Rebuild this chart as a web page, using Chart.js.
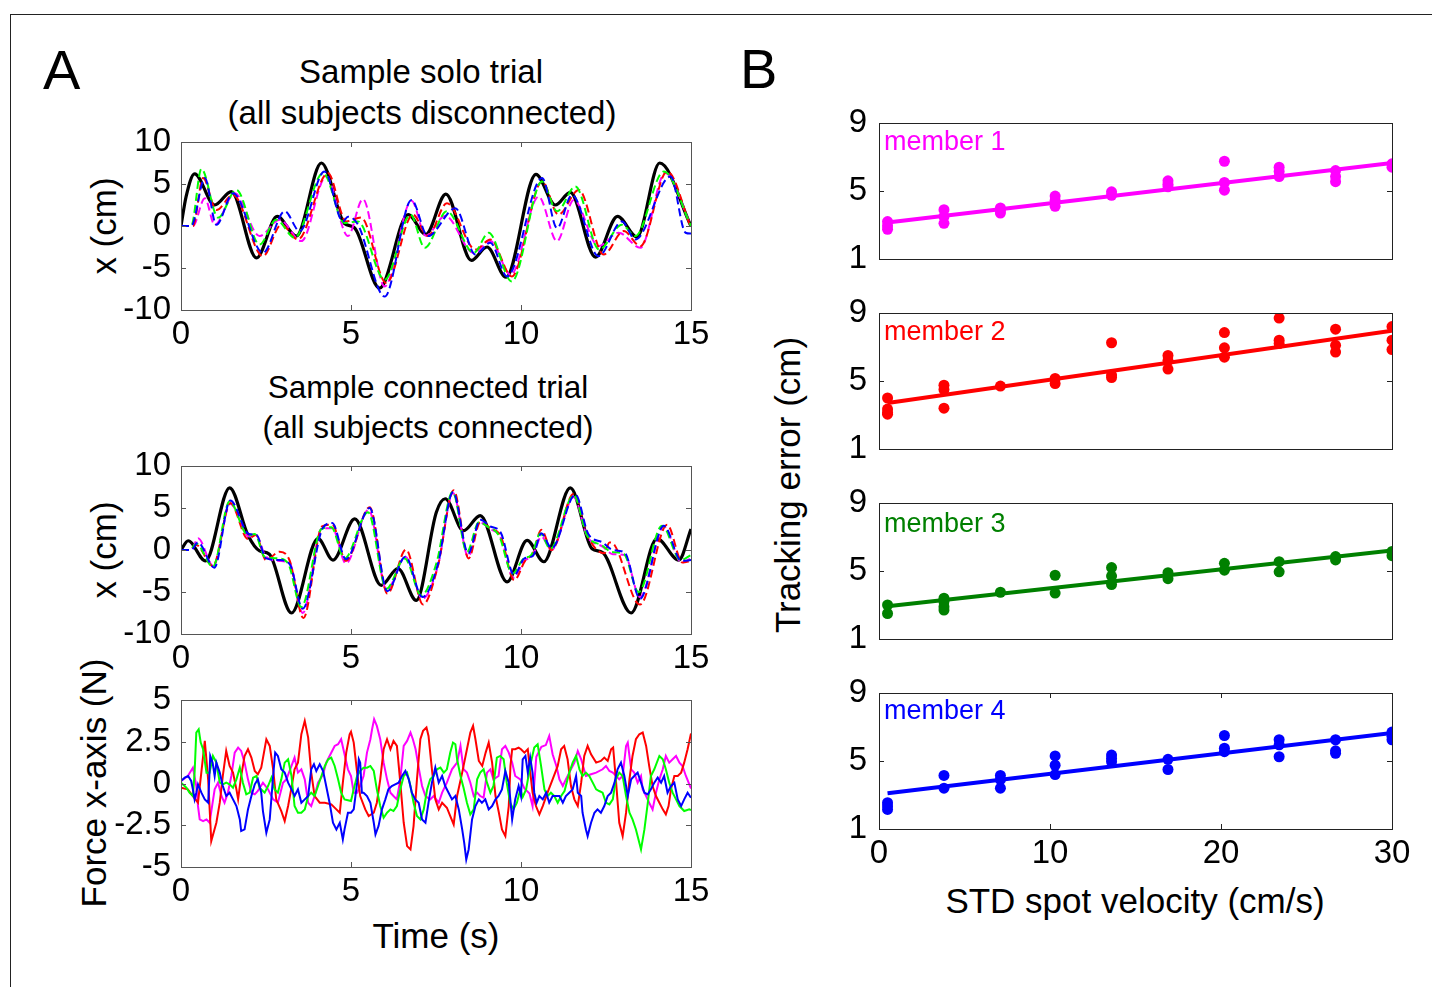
<!DOCTYPE html>
<html lang="en">
<head>
<meta charset="UTF-8">
<title>Group tracking: sample trials and tracking error</title>
<script src="https://cdn.jsdelivr.net/npm/chart.js"></script>
<style>
  body { margin: 0; background: #fff; font-family: 'Liberation Sans', Arial, sans-serif; color: #000; }
  #fig { position: relative; width: 1432px; height: 987px; overflow: hidden; background: #fff; }
  .frame { position: absolute; left: 10px; top: 14px; width: 1440px; height: 1000px;
           border-left: 1px solid #222; border-top: 1px solid #222; }
  .panel { position: absolute; }
  .txt { position: absolute; white-space: nowrap; line-height: 1; }
  .ctr { transform: translateX(-50%); }
  .vlab { position: absolute; white-space: nowrap; line-height: 1; font-size: 35px;
          transform: translate(-50%, -50%) rotate(-90deg); }
  .letter { font-size: 56px; }
  .title { font-size: 33px; }
  .title2 { font-size: 31.5px; }
  .axis { font-size: 35px; }
  .member { font-size: 27px; }
</style>
</head>
<body>
<div id="fig">
  <div class="frame"></div>

  <div class="txt letter" style="left:43px; top:42px;">A</div>
  <div class="txt letter" style="left:740px; top:41px;">B</div>

  <div class="txt title ctr" style="left:421px; top:55px;">Sample solo trial</div>
  <div class="txt title ctr" style="left:422px; top:96px;">(all subjects disconnected)</div>
  <div class="txt title2 ctr" style="left:428px; top:372px;">Sample connected trial</div>
  <div class="txt title2 ctr" style="left:428px; top:412px;">(all subjects connected)</div>
  <div class="txt axis ctr" style="left:436px; top:918px;">Time (s)</div>
  <div class="txt axis ctr" style="left:1135px; top:883px;">STD spot velocity (cm/s)</div>

  <div class="vlab" style="left:103px; top:226px;">x (cm)</div>
  <div class="vlab" style="left:103px; top:550px;">x (cm)</div>
  <div class="vlab" style="left:93px; top:783px;">Force x-axis (N)</div>
  <div class="vlab" style="left:787px; top:485px;">Tracking error (cm)</div>

  <div class="panel" id="pSolo"><canvas id="cSolo"></canvas></div>
  <div class="panel" id="pConn"><canvas id="cConn"></canvas></div>
  <div class="panel" id="pForce"><canvas id="cForce"></canvas></div>
  <div class="panel" id="pM1"><canvas id="cM1"></canvas></div>
  <div class="panel" id="pM2"><canvas id="cM2"></canvas></div>
  <div class="panel" id="pM3"><canvas id="cM3"></canvas></div>
  <div class="panel" id="pM4"><canvas id="cM4"></canvas></div>

  <div class="txt member" style="left:884px; top:128px; color:#ff00ff;">member 1</div>
  <div class="txt member" style="left:884px; top:318px; color:#ff0000;">member 2</div>
  <div class="txt member" style="left:884px; top:510px; color:#008000;">member 3</div>
  <div class="txt member" style="left:884px; top:697px; color:#0000ff;">member 4</div>
</div>

<script>
// ---- panel A, solo trial: [time s, x cm]
const soloTarget = [[0,0],[0.15,3.5],[0.4,6.2],[0.99,2.5],[1.48,4.1],[2.22,-3.8],[2.83,1.15],[3.39,-1.2],[4.13,7.5],[4.81,0.3],[5.1,-0.2],[5.84,-7.4],[6.68,1.35],[7.2,-1.0],[7.79,3.8],[8.54,-4.1],[9.0,-2.5],[9.56,-6.1],[10.44,6.15],[11.01,2.5],[11.45,4.0],[12.19,-3.7],[12.84,1.15],[13.41,-1.3],[14.08,7.5],[15,0]];
const soloM1 = [[0,0],[0.35,0],[0.7,3.3],[0.99,0.15],[1.58,3.9],[2.31,-1.2],[2.9,0.75],[3.54,-1.8],[4.27,5.9],[4.91,-1.2],[5.35,3.2],[5.99,-7.2],[6.78,3.0],[7.2,-1.15],[7.77,1.2],[8.61,-3.2],[9.1,-1.8],[9.7,-5.8],[10.52,3.5],[11.06,-1.8],[11.55,3.1],[12.28,-2.4],[12.87,-0.8],[13.51,-2.6],[14.24,6.3],[15,0]];
const soloM2 = [[0,0],[0.35,0],[0.65,5.7],[1.04,1.9],[1.53,3.7],[2.41,-3.6],[2.95,0.15],[3.44,-1.6],[4.32,6.3],[4.86,0.55],[5.3,1.0],[6.04,-6.8],[6.82,1.35],[7.26,-1.2],[7.82,2.7],[8.66,-2.8],[9.1,-1.6],[9.73,-6.0],[10.62,5.3],[11.1,1.35],[11.7,4.3],[12.43,-3.4],[13.02,-0.6],[13.51,-2.4],[14.3,6.5],[15,-0.2]];
const soloM3 = [[0,0],[0.3,0],[0.6,6.8],[1.09,1.0],[1.63,4.3],[2.31,-2.2],[2.8,0.75],[3.34,-1.4],[4.18,6.3],[4.81,0.35],[5.2,0.55],[5.99,-6.4],[6.75,1.35],[7.17,-2.6],[7.82,1.75],[8.61,-3.2],[9.05,-0.8],[9.73,-6.6],[10.62,5.3],[11.06,1.75],[11.6,4.7],[12.3,-2.8],[12.97,0.15],[13.36,-1.2],[14.2,6.5],[15,0]];
const soloM4 = [[0,0],[0.3,0],[0.7,5.7],[1.04,0.15],[1.53,3.9],[2.41,-3.2],[3.05,1.75],[3.49,-0.6],[4.22,6.5],[4.76,0.55],[4.91,1.1],[5.2,0.2],[5.99,-8.4],[6.78,3.1],[7.26,-1.2],[8.07,2.1],[8.66,-3.4],[9.1,-2.0],[9.59,-6.0],[10.62,5.7],[11.06,-0.25],[11.5,3.7],[12.28,-3.6],[12.97,0.55],[13.36,-1.6],[14.4,5.9],[14.84,-0.8],[15,-0.9]];

// ---- panel A, connected trial: [time s, x cm]
const connTarget = [[0,0],[0.21,1.1],[0.72,-1.3],[1.43,7.4],[1.97,1.75],[2.31,-0.1],[2.6,-0.5],[3.25,-7.5],[4.03,1.35],[4.47,-1.2],[5.11,3.7],[5.89,-4.2],[6.38,-2.2],[6.92,-6.0],[7.51,4.5],[7.77,6.1],[8.31,2.3],[8.8,4.1],[9.59,-3.8],[10.18,1.15],[10.67,-1.4],[11.45,7.4],[12.09,0.15],[12.4,-0.3],[13.24,-7.5],[14.0,1.35],[14.64,-1.2],[15,2.5]];
const connM1 = [[0,0],[0.3,0],[0.5,1.4],[0.95,-1.9],[1.45,5.5],[2.0,1.6],[2.2,1.8],[2.5,-0.8],[2.9,-1.3],[3.2,-1.6],[3.58,-7.5],[4.15,2.6],[4.45,2.6],[4.85,-1.6],[5.52,4.8],[6.05,-4.8],[6.6,-0.8],[7.1,-5.8],[7.55,-2.0],[8.0,6.8],[8.45,-0.8],[8.78,3.3],[9.1,2.5],[9.4,1.5],[9.78,-3.3],[10.1,-1.3],[10.35,-0.6],[10.6,1.6],[10.9,0.0],[11.55,6.3],[11.95,1.6],[12.4,0.4],[12.7,-0.5],[13.05,-0.6],[13.5,-5.6],[14.2,2.8],[14.72,-1.5],[15,-1.0]];
const connM2 = [[0,0],[0.25,0],[0.45,0.6],[0.94,-1.9],[1.45,5.6],[1.97,1.3],[2.2,1.8],[2.5,-1.2],[2.9,-0.2],[3.2,-1.3],[3.6,-8.1],[4.15,2.8],[4.45,3.0],[4.85,-1.3],[5.55,5.1],[6.07,-5.2],[6.62,0.05],[7.12,-6.5],[7.55,-2.0],[8.02,7.1],[8.46,-1.0],[8.8,3.3],[9.1,2.6],[9.4,1.7],[9.8,-3.6],[10.12,-1.3],[10.35,-0.4],[10.6,2.4],[10.9,0.0],[11.55,6.7],[11.98,1.5],[12.45,-0.4],[12.6,0.9],[12.75,0.6],[13.5,-6.5],[14.3,3.0],[14.75,-1.5],[15,-1.3]];
const connM3 = [[0,0],[0.25,0],[0.45,0.75],[0.94,-2.0],[1.43,5.8],[1.97,1.75],[2.17,1.9],[2.46,-0.8],[2.85,-1.0],[3.15,-1.6],[3.54,-6.8],[4.13,2.5],[4.42,2.7],[4.81,-1.0],[5.5,4.5],[6.04,-4.6],[6.58,-1.0],[7.07,-5.4],[7.51,-1.6],[7.99,6.9],[8.41,-0.25],[8.76,3.3],[9.05,2.7],[9.35,1.75],[9.75,-2.8],[10.08,-1.0],[10.3,-0.6],[10.57,1.95],[10.86,0.15],[11.55,6.5],[11.94,1.75],[12.38,0.55],[12.68,-0.25],[13.02,-0.45],[13.46,-5.0],[14.15,2.9],[14.69,-1.2],[15,-0.6]];
const connM4 = [[0,0],[0.3,0],[0.5,0.9],[0.98,-2.1],[1.45,5.9],[2.0,1.9],[2.22,1.8],[2.5,-1.0],[2.9,-1.2],[3.2,-1.7],[3.58,-7.0],[4.18,2.7],[4.45,3.2],[4.85,-1.1],[5.55,5.0],[6.07,-4.9],[6.6,-0.8],[7.1,-5.6],[7.55,-1.8],[8.0,6.9],[8.45,-0.4],[8.8,3.6],[9.1,2.8],[9.4,2.1],[9.8,-3.0],[10.1,-1.0],[10.35,-0.7],[10.6,2.0],[10.9,0.2],[11.6,6.6],[11.98,1.9],[12.4,0.9],[12.7,0.0],[13.05,-0.3],[13.5,-5.8],[14.2,2.9],[14.72,-1.3],[15,-1.2]];

// ---- panel A, interaction forces: [time s, force N]
const forceM1 = [[0,0.15],[0.2,0.45],[0.35,0.95],[0.45,-0.15],[0.5,-1.35],[0.55,-2.15],[0.65,-2.25],[0.75,-2.15],[0.84,-2.35],[0.9,-1.55],[0.99,-0.35],[1.09,0.05],[1.19,-0.75],[1.28,-1.15],[1.38,-0.55],[1.48,0.45],[1.58,1.85],[1.68,2.15],[1.77,1.95],[1.87,1.25],[1.97,0.25],[2.07,-0.55],[2.17,-0.65],[2.26,-0.45],[2.41,0.05],[2.56,-0.35],[2.71,-0.95],[2.85,-1.15],[3.0,0.05],[3.1,0.25],[3.25,1.05],[3.34,1.55],[3.44,0.65],[3.54,0.85],[3.64,0.25],[3.74,-1.15],[3.83,-1.35],[3.93,-0.75],[4.03,0.05],[4.18,0.55],[4.27,1.25],[4.37,1.65],[4.52,2.25],[4.62,2.35],[4.71,2.65],[4.81,1.75],[4.91,0.85],[5.0,0.45],[5.08,-0.55],[5.18,-0.55],[5.27,-0.15],[5.37,0.45],[5.47,1.85],[5.57,2.65],[5.62,3.25],[5.68,3.85],[5.76,3.45],[5.86,2.65],[5.96,1.25],[6.06,0.25],[6.16,-0.55],[6.25,-0.75],[6.35,-0.95],[6.45,0.25],[6.55,2.25],[6.65,2.55],[6.75,3.05],[6.82,2.65],[6.9,2.05],[7.0,0.85],[7.09,-0.15],[7.19,-0.75],[7.33,-0.95],[7.43,-0.75],[7.58,-1.15],[7.68,-0.55],[7.82,0.05],[7.97,0.85],[8.12,1.25],[8.22,2.25],[8.31,0.85],[8.41,0.65],[8.51,0.05],[8.61,-0.75],[8.71,-0.55],[8.8,-0.75],[8.9,-0.85],[9.0,0.65],[9.1,0.85],[9.19,0.25],[9.34,0.45],[9.44,2.05],[9.54,2.25],[9.64,1.85],[9.74,1.25],[9.83,0.45],[9.98,0.25],[10.1,-0.3],[10.25,-0.6],[10.34,-1.35],[10.45,1.6],[10.6,2.2],[10.73,2.3],[10.83,2.85],[10.93,1.75],[11.04,1.05],[11.13,0.25],[11.23,-0.15],[11.32,0.25],[11.42,0.65],[11.57,1.25],[11.67,1.95],[11.77,1.45],[11.91,0.45],[12.06,0.55],[12.21,0.65],[12.4,0.85],[12.5,1.05],[12.6,0.75],[12.7,0.65],[12.89,0.25],[12.99,0.45],[13.09,2.25],[13.14,2.45],[13.24,0.85],[13.33,0.65],[13.43,0.05],[13.53,0.45],[13.58,-0.35],[13.68,-0.75],[13.77,-1.15],[13.87,-1.55],[13.97,-0.55],[14.07,0.25],[14.17,0.85],[14.26,1.65],[14.36,1.25],[14.46,1.45],[14.56,1.65],[14.66,1.25],[14.75,1.05],[14.85,0.45],[15,-0.3]];
const forceM2 = [[0,-0.25],[0.2,-0.35],[0.35,-0.75],[0.5,-1.15],[0.7,2.55],[0.8,0.2],[0.89,-3.45],[1.04,-2.35],[1.14,-1.15],[1.23,0.45],[1.33,1.95],[1.43,1.05],[1.53,0.65],[1.63,-0.35],[1.68,-0.95],[1.77,0.45],[1.87,1.65],[1.97,2.05],[2.07,1.55],[2.17,0.75],[2.26,0.55],[2.36,0.95],[2.51,2.65],[2.61,2.25],[2.71,0.85],[2.8,-0.95],[2.95,-1.65],[3.05,-2.25],[3.15,-1.35],[3.25,-0.25],[3.34,0.85],[3.44,1.25],[3.54,2.95],[3.64,3.75],[3.74,2.75],[3.83,0.65],[3.93,-0.75],[4.08,-1.15],[4.23,-1.15],[4.42,-1.25],[4.57,-1.55],[4.67,-1.75],[4.76,0.05],[4.86,1.85],[4.96,2.95],[5.0,3.1],[5.08,2.45],[5.18,0.65],[5.27,-0.75],[5.42,-1.55],[5.52,-1.95],[5.67,-1.75],[5.76,-1.15],[5.86,0.25],[5.96,2.05],[6.06,2.65],[6.16,2.05],[6.25,2.55],[6.35,2.25],[6.45,0.05],[6.55,-2.35],[6.65,-3.75],[6.75,-3.95],[6.84,-2.55],[6.94,0.25],[7.04,2.65],[7.12,3.15],[7.22,3.35],[7.28,2.85],[7.38,0.85],[7.48,-0.95],[7.58,-1.55],[7.68,-1.15],[7.82,-1.45],[7.92,-1.95],[8.02,-2.45],[8.12,-0.75],[8.27,0.65],[8.41,2.05],[8.51,3.05],[8.59,3.45],[8.66,2.65],[8.76,1.35],[8.86,1.05],[8.96,1.85],[9.05,2.45],[9.15,1.25],[9.25,-0.75],[9.35,-1.75],[9.44,-2.75],[9.54,-3.15],[9.64,-1.35],[9.69,1.05],[9.74,2.05],[9.83,2.05],[9.93,2.15],[10.0,2.05],[10.1,1.85],[10.2,2.05],[10.25,1.05],[10.34,-0.55],[10.44,-1.35],[10.54,-1.85],[10.64,-1.35],[10.78,-0.55],[10.93,0.25],[11.08,1.05],[11.18,2.05],[11.27,2.25],[11.37,1.45],[11.47,-0.15],[11.57,-0.95],[11.67,-1.35],[11.77,0.05],[11.86,1.65],[11.96,2.25],[12.06,1.75],[12.21,1.25],[12.35,1.35],[12.45,1.55],[12.55,1.35],[12.65,2.05],[12.71,2.15],[12.79,0.25],[12.89,-2.35],[12.99,-3.15],[13.09,-1.75],[13.19,0.25],[13.28,1.65],[13.38,2.65],[13.48,2.95],[13.58,3.05],[13.68,2.25],[13.77,1.05],[13.87,-0.15],[13.97,-0.75],[14.07,-1.15],[14.17,-1.55],[14.26,-1.85],[14.34,-1.35],[14.41,-0.35],[14.51,0.45],[14.61,0.45],[14.71,0.65],[14.8,1.25],[14.9,2.05],[15,3.0]];
const forceM3 = [[0,0.05],[0.16,-0.25],[0.25,-0.55],[0.35,-0.75],[0.4,0.65],[0.45,3.05],[0.52,3.25],[0.58,2.45],[0.65,2.05],[0.75,0.65],[0.84,0.65],[0.94,1.65],[1.04,1.25],[1.14,0.05],[1.23,-0.05],[1.33,0.05],[1.43,-0.05],[1.53,-0.25],[1.63,0.25],[1.73,0.95],[1.82,0.05],[1.92,-0.65],[2.02,-0.55],[2.12,0.35],[2.22,0.45],[2.31,-0.25],[2.46,-0.55],[2.56,-0.15],[2.66,0.35],[2.75,-0.35],[2.85,-0.55],[2.95,0.25],[3.05,1.25],[3.15,1.45],[3.25,0.45],[3.34,-1.35],[3.44,-1.75],[3.54,-1.75],[3.64,-1.55],[3.74,-0.75],[3.83,-0.55],[3.93,-0.75],[4.03,-0.15],[4.13,0.45],[4.23,1.05],[4.33,1.45],[4.42,1.55],[4.52,1.05],[4.62,0.25],[4.71,-0.55],[4.81,-0.95],[4.91,-1.0],[5.0,-1.05],[5.08,-0.35],[5.18,0.45],[5.27,0.75],[5.37,0.95],[5.47,0.95],[5.57,1.05],[5.67,0.75],[5.76,-0.35],[5.86,-1.35],[5.96,-2.05],[6.06,-1.75],[6.16,-1.55],[6.25,-1.65],[6.35,-1.35],[6.45,-0.35],[6.55,0.45],[6.65,0.65],[6.75,-0.15],[6.84,-1.15],[6.94,-1.95],[7.04,-2.15],[7.14,-1.55],[7.24,-0.35],[7.33,0.25],[7.43,0.45],[7.53,0.85],[7.63,0.95],[7.73,0.65],[7.82,0.85],[7.92,1.85],[8.0,2.45],[8.07,2.35],[8.12,1.45],[8.22,0.45],[8.31,-0.25],[8.41,-1.15],[8.51,-1.85],[8.61,-1.55],[8.71,0.25],[8.8,0.65],[8.9,0.85],[9.0,0.05],[9.1,-0.55],[9.19,-0.15],[9.29,1.55],[9.39,1.65],[9.49,1.45],[9.58,0.05],[9.68,-1.15],[9.78,-1.55],[9.88,-1.15],[9.98,-0.35],[10.05,-0.8],[10.15,-0.35],[10.29,1.25],[10.39,2.15],[10.49,2.35],[10.59,1.05],[10.69,-0.35],[10.78,-0.75],[10.88,-0.55],[10.98,-0.75],[11.08,-1.15],[11.18,-0.75],[11.28,-0.45],[11.42,0.65],[11.52,1.25],[11.62,1.65],[11.72,0.85],[11.81,0.45],[11.91,0.65],[12.01,0.45],[12.11,0.05],[12.21,-0.35],[12.3,-0.45],[12.4,-0.55],[12.5,-1.15],[12.6,-1.25],[12.7,-0.95],[12.79,0.25],[12.89,0.65],[12.99,0.45],[13.09,-0.75],[13.19,-1.75],[13.28,-2.15],[13.38,-2.75],[13.48,-3.55],[13.53,-3.95],[13.63,-2.75],[13.73,-1.15],[13.82,0.45],[13.92,0.85],[14.07,1.65],[14.17,1.45],[14.26,0.85],[14.36,0.05],[14.46,-0.55],[14.56,-0.95],[14.66,-1.35],[14.8,-1.65],[14.95,-1.55],[15,-1.6]];
const forceM4 = [[0,0.15],[0.11,0.35],[0.21,0.45],[0.3,0.15],[0.35,-0.35],[0.4,-0.95],[0.45,-0.55],[0.5,-0.05],[0.6,-0.55],[0.7,-0.95],[0.8,-1.15],[0.86,1.65],[0.93,1.25],[0.99,0.45],[1.04,1.25],[1.14,0.65],[1.23,-0.15],[1.33,-0.75],[1.43,-0.55],[1.53,-0.95],[1.63,-1.35],[1.73,-2.15],[1.77,-2.85],[1.87,-2.75],[1.97,-1.55],[2.07,-0.75],[2.17,-0.05],[2.26,0.25],[2.36,-0.55],[2.41,-1.65],[2.51,-2.95],[2.61,-2.15],[2.71,0.45],[2.77,1.85],[2.85,1.65],[2.95,0.85],[3.05,0.65],[3.15,0.05],[3.25,-0.35],[3.34,-0.75],[3.44,-0.35],[3.54,-1.15],[3.64,-0.95],[3.74,-0.75],[3.83,0.85],[3.91,1.15],[3.98,0.75],[4.08,1.15],[4.18,0.75],[4.27,-0.15],[4.37,-1.15],[4.47,-2.35],[4.57,-2.75],[4.67,-2.35],[4.76,-3.35],[4.81,-2.75],[4.91,-1.75],[5.0,-1.75],[5.08,-1.55],[5.13,-0.75],[5.18,0.05],[5.23,1.45],[5.27,1.25],[5.32,-0.55],[5.37,-0.55],[5.47,-0.75],[5.57,-1.15],[5.67,-2.35],[5.72,-3.05],[5.81,-2.55],[5.91,-1.55],[6.01,-0.95],[6.1,-0.35],[6.2,-0.15],[6.3,-0.05],[6.4,0.05],[6.5,0.45],[6.6,0.75],[6.7,0.25],[6.79,-0.55],[6.89,-0.95],[6.99,-1.15],[7.09,-2.15],[7.19,-2.35],[7.28,-1.15],[7.38,0.05],[7.48,0.95],[7.58,0.05],[7.68,0.45],[7.77,-0.15],[7.87,-0.55],[7.97,-0.95],[8.07,-0.75],[8.17,-1.55],[8.27,-2.75],[8.33,-3.55],[8.39,-4.55],[8.46,-3.95],[8.56,-2.15],[8.66,-1.35],[8.76,-0.95],[8.85,-1.15],[8.95,-0.95],[9.05,-1.55],[9.15,-1.35],[9.25,-0.95],[9.34,-0.75],[9.44,-0.35],[9.54,0.75],[9.64,0.05],[9.74,-2.15],[9.83,-0.95],[9.93,-0.15],[10.0,-0.75],[10.05,1.45],[10.13,1.65],[10.2,0.65],[10.27,1.55],[10.34,0.65],[10.39,-0.55],[10.46,-1.15],[10.54,-0.75],[10.64,-0.95],[10.74,-0.55],[10.83,-1.15],[10.93,-0.75],[11.03,-0.75],[11.13,-0.75],[11.23,-1.15],[11.32,-0.75],[11.42,-0.55],[11.52,-0.35],[11.62,0.45],[11.67,-0.55],[11.77,-0.75],[11.81,-1.75],[11.91,-2.75],[11.96,-3.15],[12.06,-2.35],[12.16,-1.75],[12.25,-1.55],[12.35,-1.75],[12.45,-1.35],[12.55,-0.75],[12.65,-0.55],[12.75,0.05],[12.84,0.85],[12.94,1.25],[13.04,0.45],[13.14,-0.75],[13.24,0.25],[13.33,0.45],[13.43,0.65],[13.53,0.05],[13.63,-0.55],[13.73,-0.65],[13.82,-0.35],[13.92,0.05],[14.02,0.35],[14.12,0.05],[14.21,0.45],[14.31,-0.55],[14.41,-0.15],[14.51,0.05],[14.61,-0.95],[14.71,-1.35],[14.8,-0.95],[14.9,-0.55],[15,-0.85]];

// ---- panel B: tracking error (cm) per spot velocity level
const spotSpeeds = [0.5, 3.8, 7.1, 10.3, 13.6, 16.9, 20.2, 23.4, 26.7, 30];
const errMember1 = [[3.2,2.95,2.75],[3.9,3.5,3.1],[4.0,3.85,3.7],[4.7,4.45,4.1],[4.95,4.75],[5.6,5.4,5.25],[6.75,5.5,5.05],[6.4,6.15,5.85],[6.2,5.85,5.55],[6.6,6.4]];
const errMember2 = [[4.0,3.35,3.15,3.05],[4.75,4.5,3.4],[4.7],[5.15,4.85],[7.25,5.35,5.2],[6.5,6.2,5.7],[7.85,6.95,6.4],[8.7,7.4,7.2],[8.05,7.1,6.7],[8.2,7.4,6.85]];
const errMember3 = [[3.0,2.5],[3.4,3.2,2.9,2.7],[3.75],[4.75,3.7],[5.2,4.7,4.2],[4.9,4.55],[5.45,5.05],[5.55,4.95],[5.85,5.65],[6.15,5.9]];
const errMember4 = [[2.55,2.35,2.15],[4.15,3.4],[4.15,3.9,3.4],[5.3,4.75,4.2],[5.35,5.15,4.95],[5.1,4.5],[6.5,5.75,5.55],[6.25,5.95,5.25],[6.25,5.6,5.45],[6.7,6.45,6.25]];
// fitted line value at the first and last velocity level
const fitMember1 = [3.15, 6.65];
const fitMember2 = [3.7, 7.95];
const fitMember3 = [2.92, 6.2];
const fitMember4 = [3.1, 6.65];

const FONT = "'Liberation Sans', Arial, sans-serif";
Chart.defaults.font.family = FONT;
Chart.defaults.color = '#000';
Chart.defaults.animation = false;

// matlab style box with inward ticks on all four sides
const boxTicks = {
    id: 'boxTicks',
    afterDatasetsDraw(chart, args, o) {
        const { ctx, chartArea: a } = chart;
        const xs = chart.scales.x, ys = chart.scales.y;
        ctx.save();
        ctx.strokeStyle = o.color;
        ctx.lineWidth = 1;
        ctx.beginPath();
        ys.ticks.forEach(t => {
            const p = Math.round(ys.getPixelForValue(t.value)) + 0.5;
            ctx.moveTo(a.left, p); ctx.lineTo(a.left + o.len, p);
            ctx.moveTo(a.right, p); ctx.lineTo(a.right - o.len, p);
        });
        if (o.xTicks) {
            xs.ticks.forEach(t => {
                const p = Math.round(xs.getPixelForValue(t.value)) + 0.5;
                ctx.moveTo(p, a.top); ctx.lineTo(p, a.top + o.len);
                ctx.moveTo(p, a.bottom); ctx.lineTo(p, a.bottom - o.len);
            });
        }
        ctx.stroke();
        ctx.strokeRect(Math.round(a.left) + 0.5, Math.round(a.top) + 0.5, Math.round(a.width), Math.round(a.height));
        ctx.restore();
    }
};

function mount(id, box, pad) {
    const el = document.getElementById(id);
    el.style.left = (box.x - pad.l) + 'px';
    el.style.top = (box.y - pad.t) + 'px';
    el.style.width = (box.w + pad.l + pad.r) + 'px';
    el.style.height = (box.h + pad.t + pad.b) + 'px';
}

function axisOpts(min, max, step, pad, showLabels, isX, labelPad) {
    return {
        type: 'linear', min, max,
        ticks: { stepSize: step, display: showLabels, padding: labelPad, maxRotation: 0, autoSkip: false,
                 font: { size: 33 }, color: '#000' },
        grid: { display: false, drawTicks: false },
        border: { display: false },
        afterFit: s => { if (isX) s.height = pad.b; else s.width = pad.l; }
    };
}

function lineChart(canvasId, panelId, box, yMin, yMax, yStep, series) {
    const pad = { l: 130, t: 40, r: 34, b: 50 };
    mount(panelId, box, pad);
    return new Chart(document.getElementById(canvasId), {
        type: 'line',
        data: {
            datasets: series.map(s => ({
                data: s.data,
                borderColor: s.color,
                borderWidth: s.width,
                borderDash: s.dash || [],
                cubicInterpolationMode: s.smooth ? 'monotone' : 'default',
                tension: 0,
                pointRadius: 0,
                fill: false,
                order: s.order
            }))
        },
        options: {
            responsive: true, maintainAspectRatio: false,
            layout: { padding: { top: pad.t, right: pad.r, left: 0, bottom: 0 } },
            plugins: { legend: { display: false }, tooltip: { enabled: false },
                       boxTicks: { color: '#555', len: 5, xTicks: true } },
            scales: {
                x: axisOpts(0, 15, 5, pad, true, true, 5),
                y: axisOpts(yMin, yMax, yStep, pad, true, false, 10)
            }
        },
        plugins: [boxTicks]
    });
}

const dash = [8, 4];
lineChart('cSolo', 'pSolo', { x: 181, y: 142, w: 510, h: 168 }, -10, 10, 5, [
    { data: soloTarget, color: '#000000', width: 3.2, smooth: true, order: 5 },
    { data: soloM1, color: '#ff00ff', width: 2, dash, smooth: true, order: 4 },
    { data: soloM2, color: '#ff0000', width: 2, dash, smooth: true, order: 3 },
    { data: soloM3, color: '#00ff00', width: 2, dash, smooth: true, order: 2 },
    { data: soloM4, color: '#0000ff', width: 2, dash, smooth: true, order: 1 }
]);
lineChart('cConn', 'pConn', { x: 181, y: 466, w: 510, h: 168 }, -10, 10, 5, [
    { data: connTarget, color: '#000000', width: 3.2, smooth: true, order: 5 },
    { data: connM1, color: '#ff00ff', width: 2, dash, smooth: true, order: 4 },
    { data: connM2, color: '#ff0000', width: 2, dash, smooth: true, order: 3 },
    { data: connM3, color: '#00ff00', width: 2, dash, smooth: true, order: 2 },
    { data: connM4, color: '#0000ff', width: 2, dash, smooth: true, order: 1 }
]);
lineChart('cForce', 'pForce', { x: 181, y: 700, w: 510, h: 167 }, -5, 5, 2.5, [
    { data: forceM1, color: '#ff00ff', width: 2, order: 4 },
    { data: forceM2, color: '#ff0000', width: 2, order: 3 },
    { data: forceM3, color: '#00ff00', width: 2, order: 2 },
    { data: forceM4, color: '#0000ff', width: 2, order: 1 }
]);

function memberChart(canvasId, panelId, box, errs, fit, color, showX) {
    const pad = { l: 50, t: 40, r: 30, b: 50 };
    mount(panelId, box, pad);
    const pts = errs.flatMap((col, i) => col.map(v => ({ x: spotSpeeds[i], y: v })));
    const line = [{ x: spotSpeeds[0], y: fit[0] }, { x: spotSpeeds[spotSpeeds.length - 1], y: fit[1] }];
    return new Chart(document.getElementById(canvasId), {
        type: 'scatter',
        data: {
            datasets: [
                { data: line, showLine: true, borderColor: color, borderWidth: 4, pointRadius: 0, clip: 0, order: 1 },
                { data: pts, backgroundColor: color, borderColor: color, pointRadius: 5.5, borderWidth: 0, clip: 0, order: 2 }
            ]
        },
        options: {
            responsive: true, maintainAspectRatio: false,
            layout: { padding: { top: pad.t, right: pad.r, left: 0, bottom: 0 } },
            plugins: { legend: { display: false }, tooltip: { enabled: false },
                       boxTicks: { color: '#222', len: 5, xTicks: showX } },
            scales: {
                x: axisOpts(0, 30, 10, pad, showX, true, 5),
                y: axisOpts(1, 9, 4, pad, true, false, 12)
            }
        },
        plugins: [boxTicks]
    });
}

memberChart('cM1', 'pM1', { x: 879, y: 123, w: 513, h: 136 }, errMember1, fitMember1, '#ff00ff', false);
memberChart('cM2', 'pM2', { x: 879, y: 313, w: 513, h: 136 }, errMember2, fitMember2, '#ff0000', false);
memberChart('cM3', 'pM3', { x: 879, y: 503, w: 513, h: 136 }, errMember3, fitMember3, '#008000', false);
memberChart('cM4', 'pM4', { x: 879, y: 693, w: 513, h: 136 }, errMember4, fitMember4, '#0000ff', true);
</script>
</body>
</html>
